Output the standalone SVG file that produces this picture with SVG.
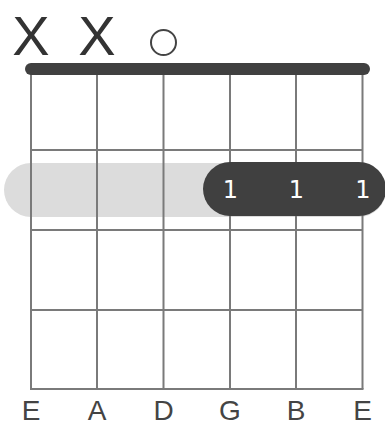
<svg xmlns="http://www.w3.org/2000/svg" width="385" height="422" viewBox="0 0 385 422">
<style>
.grid line{stroke:#7a7a7a;stroke-width:2}
.mute{font-family:"Liberation Sans",Arial,sans-serif;font-size:56px;fill:#333;text-anchor:middle}
.fing{font-family:"DejaVu Sans",sans-serif;font-size:24px;fill:#fff;text-anchor:middle}
.lbl{font-family:"Liberation Sans",Arial,sans-serif;font-size:28px;fill:#444;text-anchor:middle}
</style>
<rect width="385" height="422" fill="#fff"/>
<g id="barre-shadow"><rect x="4" y="163" width="382" height="54" rx="27" fill="#dcdcdc"/></g>
<g id="grid" class="grid">
<line x1="31" y1="70" x2="31" y2="389"/>
<line x1="97" y1="70" x2="97" y2="389"/>
<line x1="163.5" y1="70" x2="163.5" y2="389"/>
<line x1="230" y1="70" x2="230" y2="389"/>
<line x1="296" y1="70" x2="296" y2="389"/>
<line x1="362.5" y1="70" x2="362.5" y2="389"/>
<line x1="31" y1="150" x2="362.5" y2="150"/>
<line x1="31" y1="230" x2="362.5" y2="230"/>
<line x1="31" y1="310" x2="362.5" y2="310"/>
<line x1="30" y1="389" x2="363.5" y2="389"/>
</g>
<g id="nut"><rect x="25" y="63" width="345" height="12" rx="6" fill="#404040"/></g>
<g id="barre">
<rect x="203" y="162" width="183" height="54" rx="27" fill="#404040"/>
<text class="fing" x="230.5" y="198">1</text>
<text class="fing" x="296.5" y="198">1</text>
<text class="fing" x="363" y="198">1</text>
</g>
<g id="top">
<text class="mute" x="31" y="55">X</text>
<text class="mute" x="97" y="55">X</text>
<circle cx="163.5" cy="42.5" r="12.5" fill="none" stroke="#444" stroke-width="2"/>
</g>
<g id="labels">
<text class="lbl" x="31" y="420">E</text>
<text class="lbl" x="97" y="420">A</text>
<text class="lbl" x="163.5" y="420">D</text>
<text class="lbl" x="230" y="420">G</text>
<text class="lbl" x="296" y="420">B</text>
<text class="lbl" x="362.5" y="420">E</text>
</g>
</svg>
